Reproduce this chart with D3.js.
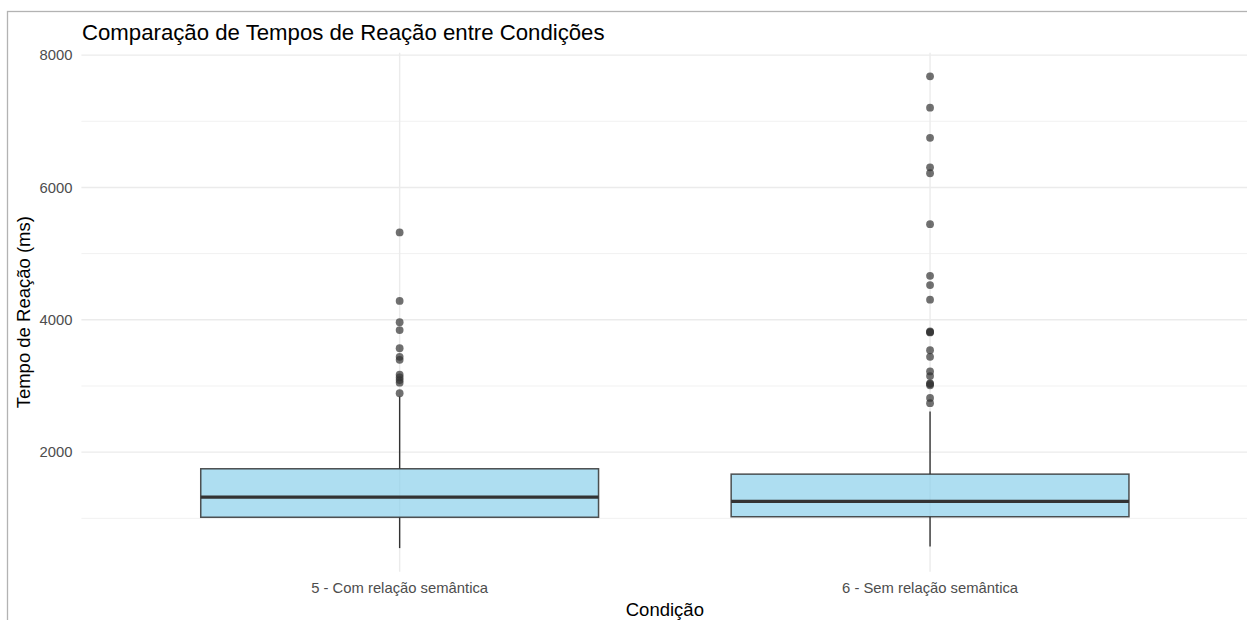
<!DOCTYPE html>
<html>
<head>
<meta charset="utf-8">
<script src="https://cdn.jsdelivr.net/npm/d3@7/dist/d3.min.js"></script>
<style>
  html, body { margin: 0; padding: 0; background: #ffffff; }
  svg { display: block; }
  text { font-family: "Liberation Sans", Arial, Helvetica, sans-serif; }
</style>
</head>
<body>
<svg id="chart" width="1247" height="620"></svg>
<script>
// Conditions on the x axis
const categories = ["5 - Com relação semântica", "6 - Sem relação semântica"];

// Box-plot summary per condition (ms): lower whisker, Q1, median, Q3, upper whisker
const whiskerLow  = [550, 575];
const q1          = [1016, 1024];
const median      = [1321, 1255];
const q3          = [1749, 1668];
const whiskerHigh = [2840, 2614];

// Outlying reaction times (ms) per condition
const outliersCom = [5320, 4285, 3965, 3845, 3570, 3440, 3395, 3170, 3130, 3090, 3050, 2890];
const outliersSem = [7680, 7205, 6750, 6305, 6215, 5445, 4665, 4525, 4305, 3825, 3815, 3810,
                     3540, 3440, 3220, 3150, 3040, 3030, 3010, 2820, 2740];
const outliers = [outliersCom, outliersSem];

// Axis ticks
const majorTicks = [2000, 4000, 6000, 8000];
const minorTicks = [1000, 3000, 5000, 7000];

const titleText = "Comparação de Tempos de Reação entre Condições";
const xTitle = "Condição";
const yTitle = "Tempo de Reação (ms)";

const svg = d3.select("#chart");

// Panel geometry
const panel = { left: 81.4, right: 1248.3, top: 52.7, bottom: 571.7 };

// y domain: data range expanded by 5% on each side
const allVals = whiskerLow.concat(whiskerHigh, outliersCom, outliersSem);
const vMin = d3.min(allVals), vMax = d3.max(allVals);
const pad = (vMax - vMin) * 0.05;
const y = d3.scaleLinear().domain([vMin - pad, vMax + pad]).range([panel.bottom, panel.top]);

// discrete x scale with 0.6 step padding on each side
const x = d3.scalePoint().domain(categories).range([panel.left, panel.right]).padding(0.6);
const boxW = x.step() * 0.75;

// Outer frame
svg.append("rect")
  .attr("x", 7.5).attr("y", 11.5)
  .attr("width", 1400).attr("height", 800)
  .attr("fill", "none").attr("stroke", "#b3b3b3").attr("stroke-width", 1.3);

// Grid
const grid = svg.append("g");
grid.selectAll(".minor").data(minorTicks).join("line")
  .attr("x1", panel.left).attr("x2", panel.right)
  .attr("y1", d => y(d)).attr("y2", d => y(d))
  .attr("stroke", "#f1f1f1").attr("stroke-width", 1);
grid.selectAll(".major").data(majorTicks).join("line")
  .attr("x1", panel.left).attr("x2", panel.right)
  .attr("y1", d => y(d)).attr("y2", d => y(d))
  .attr("stroke", "#ebebeb").attr("stroke-width", 1.4);
grid.selectAll(".vmajor").data(categories).join("line")
  .attr("x1", d => x(d)).attr("x2", d => x(d))
  .attr("y1", panel.top).attr("y2", panel.bottom)
  .attr("stroke", "#ebebeb").attr("stroke-width", 1.4);

// Boxes
const boxes = svg.append("g");
categories.forEach((c, i) => {
  const cx = x(c);
  const g = boxes.append("g");
  // whiskers
  g.append("line").attr("x1", cx).attr("x2", cx)
    .attr("y1", y(q3[i])).attr("y2", y(whiskerHigh[i]))
    .attr("stroke", "#333333").attr("stroke-width", 1.4);
  g.append("line").attr("x1", cx).attr("x2", cx)
    .attr("y1", y(q1[i])).attr("y2", y(whiskerLow[i]))
    .attr("stroke", "#333333").attr("stroke-width", 1.4);
  // box
  g.append("rect")
    .attr("x", cx - boxW / 2).attr("width", boxW)
    .attr("y", y(q3[i])).attr("height", y(q1[i]) - y(q3[i]))
    .attr("fill", "#87ceeb").attr("fill-opacity", 0.68)
    .attr("stroke", "#333333").attr("stroke-opacity", 0.85).attr("stroke-width", 1.5);
  // median
  g.append("line")
    .attr("x1", cx - boxW / 2).attr("x2", cx + boxW / 2)
    .attr("y1", y(median[i])).attr("y2", y(median[i]))
    .attr("stroke", "#333333").attr("stroke-width", 3.2);
  // outliers
  g.selectAll("circle").data(outliers[i]).join("circle")
    .attr("cx", cx).attr("cy", d => y(d)).attr("r", 3.9)
    .attr("fill", "#333333").attr("fill-opacity", 0.7);
});

// Y tick labels
svg.append("g").selectAll("text").data(majorTicks).join("text")
  .attr("x", 72.5).attr("y", d => y(d)).attr("dy", "0.36em")
  .attr("text-anchor", "end").attr("font-size", 14.8).attr("fill", "#4d4d4d")
  .text(d => d);

// X tick labels
svg.append("g").selectAll("text").data(categories).join("text")
  .attr("x", d => x(d)).attr("y", 593.3)
  .attr("text-anchor", "middle").attr("font-size", 14.8).attr("fill", "#4d4d4d")
  .text(d => d);

// Axis titles
svg.append("text")
  .attr("x", (panel.left + panel.right) / 2).attr("y", 615.5)
  .attr("text-anchor", "middle").attr("font-size", 18.5).attr("fill", "#000")
  .text(xTitle);
svg.append("text")
  .attr("transform", `translate(30.3,${(panel.top + panel.bottom) / 2}) rotate(-90)`)
  .attr("text-anchor", "middle").attr("font-size", 18.5).attr("fill", "#000")
  .text(yTitle);

// Title
svg.append("text")
  .attr("x", 82).attr("y", 39.5)
  .attr("font-size", 22.2).attr("fill", "#000")
  .text(titleText);
</script>
</body>
</html>
